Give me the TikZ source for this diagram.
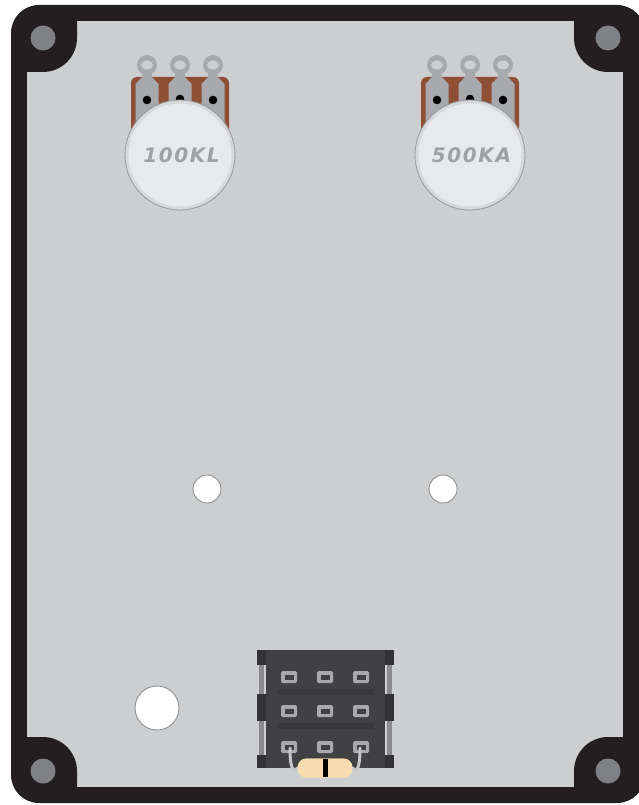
\documentclass[tikz,border=0pt]{standalone}
\usepackage{fontspec}
\newfontfamily\knobfont[LetterSpace=8]{DejaVu Sans}
\begin{document}
\definecolor{plate}{HTML}{CDCED0}
\definecolor{frame}{HTML}{231F20}
\definecolor{screw}{HTML}{808184}
\definecolor{potbody}{HTML}{8F4F36}
\definecolor{lug}{HTML}{A7A9AC}
\definecolor{knobrim}{HTML}{D7D8DA}
\definecolor{knobface}{HTML}{E8E9EA}
\definecolor{knobtext}{HTML}{9FA1A3}
\definecolor{sockbody}{HTML}{414042}
\definecolor{sockdark}{HTML}{333234}
\definecolor{sockbar}{HTML}{39383A}
\definecolor{sockstrip}{HTML}{8A8A8C}
\definecolor{resbody}{HTML}{F7DCB0}
\definecolor{reslead}{HTML}{C4C6C8}
\begin{tikzpicture}[x=1pt,y=-1pt,
  hole/.style={fill=white,draw=lug!85!black,line width=0.9pt},
  screwhead/.style={fill=screw},
  pinpad/.style={fill=lug,rounded corners=1.5pt},
  pinslot/.style={fill=sockbody},
  pics/pot/.style={code={
    % body of the potentiometer
    \fill[potbody,rounded corners=6pt] (-49,-78) rectangle (49,-20);
    % three solder lugs
    \foreach \dx in {-33,0,33}{
      \fill[lug] (\dx-5,-90) rectangle (\dx+5,-76);
      \fill[lug] (\dx-5,-78) -- (\dx+5,-78) -- (\dx+11.5,-71) -- (\dx+11.5,-20)
                 -- (\dx-11.5,-20) -- (\dx-11.5,-71) -- cycle;
      \fill[lug] (\dx,-90) circle[radius=10];
      \fill[plate] (\dx,-90) ellipse[x radius=6,y radius=4.5];
    }
    \fill[black] (-33,-55) circle[radius=4.3];
    \fill[black] (33,-55) circle[radius=4.3];
    \fill[black] (0,-56) circle[radius=4.3];
    % knob
    \fill[knobrim] (0,0) circle[radius=55];
    \draw[lug!90!black,line width=0.8pt] (0,0) circle[radius=55];
    \fill[knobface] (0,0) circle[radius=51.5];
    \node[text=knobtext,font=\knobfont\bfseries\itshape\fontsize{20}{20}\selectfont,inner sep=0pt]
      at (1.5,0) {#1};
  }}]
\useasboundingbox (0,0) rectangle (639,805);
% enclosure frame and plate
\fill[frame,rounded corners=28pt] (11,5) rectangle (645,803);
\fill[plate] (27,21) rectangle (623,787);
% corner bosses with screws
\fill[frame] (26,20) -- (77,20) -- (77,38) arc[start angle=0,end angle=90,radius=34] -- (26,72) -- cycle;
\fill[frame] (624,20) -- (574,20) -- (574,38) arc[start angle=180,end angle=90,radius=34] -- (624,72) -- cycle;
\fill[frame] (26,788) -- (77,788) -- (77,771) arc[start angle=0,end angle=-90,radius=34] -- (26,737) -- cycle;
\fill[frame] (624,788) -- (574,788) -- (574,771) arc[start angle=180,end angle=270,radius=34] -- (624,737) -- cycle;
\fill[screwhead] (43,38) circle[radius=12.5];
\fill[screwhead] (608,38) circle[radius=12.5];
\fill[screwhead] (43,771) circle[radius=12.5];
\fill[screwhead] (608,771) circle[radius=12.5];
% potentiometers
\pic (potA) at (180,155) {pot={100KL}};
\pic (potB) at (470,155) {pot={500KA}};
% drilled holes
\node[hole,circle,minimum size=28pt,inner sep=0pt] (holeA) at (207,489) {};
\node[hole,circle,minimum size=28pt,inner sep=0pt] (holeB) at (443,489) {};
\node[hole,circle,minimum size=44pt,inner sep=0pt] (holeC) at (157,708) {};
% tube socket
\fill[sockbody] (266,650) rectangle (385,768);
\foreach \sx/\ex in {257/266,385/394}{
  \fill[sockdark] (\sx,650) rectangle (\ex,665);
  \fill[sockdark] (\sx,694) rectangle (\ex,721);
  \fill[sockdark] (\sx,755) rectangle (\ex,768);
  \fill[sockstrip] (\sx+2,665) rectangle (\ex-2,694);
  \fill[sockstrip] (\sx+2,721) rectangle (\ex-2,755);
}
\fill[sockbar] (277,689) rectangle (374,695);
\fill[sockbar] (277,723) rectangle (374,729);
\foreach \px in {289,325,361}{
  \foreach \py in {677,711,747}{
    \fill[pinpad] (\px-8,\py-6) rectangle (\px+8,\py+6);
    \fill[pinslot] (\px-4.5,\py-2.5) rectangle (\px+4.5,\py+2.5);
  }
}
% resistor across the outer pins
\coordinate (legL) at (290,748);
\coordinate (legR) at (360,748);
\node[fill=resbody,rounded corners=9pt,minimum width=55pt,minimum height=19pt,inner sep=0pt] (res) at (325,768) {};
\draw[reslead,line width=3pt,line cap=round] (legL) .. controls (290,768) and (293,773) .. (res.west);
\draw[reslead,line width=3pt,line cap=round] (legR) .. controls (360,768) and (357,773) .. (res.east);
\fill[resbody,rounded corners=9pt] (297.5,758.5) rectangle (352.5,777.5);
\fill[black] (322.5,759) rectangle (327.5,777);
\end{tikzpicture}
\end{document}
